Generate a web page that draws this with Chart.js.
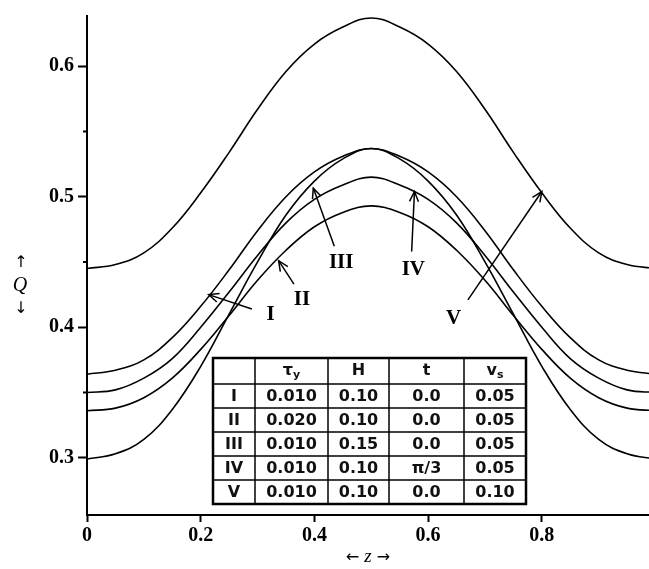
<!DOCTYPE html>
<html>
<head>
<meta charset="utf-8">
<script src="https://cdn.jsdelivr.net/npm/chart.js@4.4.1/dist/chart.umd.min.js"></script>
<style>
  html, body { margin: 0; padding: 0; background: #fff; }
  canvas { display: block; }
</style>
</head>
<body>
<canvas id="c" width="649" height="569"></canvas>
<script>
// ---- data ----
const zValues = [0, 0.05, 0.1, 0.15, 0.2, 0.25, 0.3, 0.35, 0.4, 0.45, 0.5,
                 0.55, 0.6, 0.65, 0.7, 0.75, 0.8, 0.85, 0.9, 0.95, 1.0];
const qI   = [0.364,0.367,0.375,0.392,0.416,0.444,0.474,0.500,0.519,0.531,0.537,
              0.531,0.519,0.500,0.474,0.444,0.416,0.392,0.375,0.367,0.364];
const qII  = [0.336,0.338,0.346,0.361,0.383,0.409,0.436,0.459,0.477,0.488,0.493,
              0.488,0.477,0.459,0.436,0.409,0.383,0.361,0.346,0.338,0.336];
const qIII = [0.299,0.303,0.314,0.337,0.370,0.410,0.450,0.486,0.512,0.529,0.537,
              0.529,0.512,0.486,0.450,0.410,0.370,0.337,0.314,0.303,0.299];
const qIV  = [0.350,0.352,0.361,0.376,0.400,0.427,0.455,0.480,0.498,0.509,0.515,
              0.509,0.498,0.480,0.455,0.427,0.400,0.376,0.361,0.352,0.350];
const qV   = [0.445,0.448,0.457,0.476,0.503,0.534,0.567,0.596,0.617,0.630,0.637,
              0.630,0.617,0.596,0.567,0.534,0.503,0.476,0.457,0.448,0.445];

const curveNames = ['I', 'II', 'III', 'IV', 'V'];
const curveSeries = [qI, qII, qIII, qIV, qV];

const xTicks = [0, 0.2, 0.4, 0.6, 0.8];
const xTickLabels = ['0', '0.2', '0.4', '0.6', '0.8'];
const yTicks = [0.3, 0.35, 0.4, 0.45, 0.5, 0.55, 0.6];
const yTickLabels = ['0.3', '', '0.4', '', '0.5', '', '0.6'];

// table contents
const tableHeads = [['', ''], ['τ', 'y'], ['H', ''], ['t', ''], ['v', 's']];
const colTauY = ['0.010', '0.020', '0.010', '0.010', '0.010'];
const colH    = ['0.10', '0.10', '0.15', '0.10', '0.10'];
const colT    = ['0.0', '0.0', '0.0', 'π/3', '0.0'];
const colVs   = ['0.05', '0.05', '0.05', '0.05', '0.10'];

// ---- layout (annotation positions in data units, table in pixels) ----
const arrowsLayout = [
  { name: 'I',   tail: [0.290, 0.4140], tip: [0.214, 0.425], label: [0.323, 0.4095] },
  { name: 'II',  tail: [0.364, 0.433],  tip: [0.337, 0.451], label: [0.378, 0.4215] },
  { name: 'III', tail: [0.435, 0.462],  tip: [0.398, 0.5066], label: [0.447, 0.4495] },
  { name: 'IV',  tail: [0.571, 0.458],  tip: [0.576, 0.504], label: [0.574, 0.4445] },
  { name: 'V',   tail: [0.670, 0.421],  tip: [0.800, 0.504], label: [0.645, 0.4065] }
];
const tableBox = { left: 213, top: 358, colW: [42, 73, 61, 75, 62], headH: 26, rowH: 24 };

const datasets = curveSeries.map((s, i) => ({
  label: curveNames[i],
  data: zValues.map((z, k) => ({ x: z, y: s[k] })),
  borderColor: '#000',
  borderWidth: 1.6,
  pointRadius: 0,
  fill: false,
  tension: 0.4
}));

function drawArrow(ctx, x1, y1, x2, y2) {
  ctx.beginPath();
  ctx.moveTo(x1, y1);
  ctx.lineTo(x2, y2);
  ctx.stroke();
  const a = Math.atan2(y2 - y1, x2 - x1);
  const L = 11, w = 0.42;
  ctx.beginPath();
  ctx.moveTo(x2 - L * Math.cos(a - w), y2 - L * Math.sin(a - w));
  ctx.lineTo(x2, y2);
  ctx.lineTo(x2 - L * Math.cos(a + w), y2 - L * Math.sin(a + w));
  ctx.stroke();
}

const overlay = {
  id: 'overlay',
  afterDraw(chart) {
    const ctx = chart.ctx;
    const xs = chart.scales.x, ys = chart.scales.y;
    const ca = chart.chartArea;
    ctx.save();
    // minor y ticks
    ctx.strokeStyle = '#000';
    ctx.lineWidth = 2;
    yTicks.forEach((v, i) => {
      if (yTickLabels[i] === '') {
        const py = ys.getPixelForValue(v);
        ctx.beginPath();
        ctx.moveTo(ca.left - 4, py);
        ctx.lineTo(ca.left, py);
        ctx.stroke();
      }
    });
    // arrows and labels
    ctx.lineWidth = 1.5;
    ctx.fillStyle = '#000';
    ctx.font = 'bold 21px "Liberation Serif"';
    ctx.textAlign = 'center';
    ctx.textBaseline = 'middle';
    arrowsLayout.forEach(a => {
      drawArrow(ctx,
        xs.getPixelForValue(a.tail[0]), ys.getPixelForValue(a.tail[1]),
        xs.getPixelForValue(a.tip[0]), ys.getPixelForValue(a.tip[1]));
      ctx.fillText(a.name, xs.getPixelForValue(a.label[0]), ys.getPixelForValue(a.label[1]));
    });
    // table
    const tb = tableBox;
    const totalW = tb.colW.reduce((p, c) => p + c, 0);
    const nRows = curveNames.length;
    const totalH = tb.headH + nRows * tb.rowH;
    ctx.fillStyle = '#fff';
    ctx.fillRect(tb.left, tb.top, totalW, totalH);
    ctx.strokeStyle = '#000';
    ctx.lineWidth = 1.5;
    let cx = tb.left;
    for (let c = 0; c < tb.colW.length - 1; c++) {
      cx += tb.colW[c];
      ctx.beginPath(); ctx.moveTo(cx, tb.top); ctx.lineTo(cx, tb.top + totalH); ctx.stroke();
    }
    for (let r = 0; r < nRows; r++) {
      const ry = tb.top + tb.headH + r * tb.rowH;
      ctx.beginPath(); ctx.moveTo(tb.left, ry); ctx.lineTo(tb.left + totalW, ry); ctx.stroke();
    }
    ctx.lineWidth = 2.5;
    ctx.strokeRect(tb.left, tb.top, totalW, totalH);
    // cell text
    ctx.fillStyle = '#111';
    const colCenters = [];
    cx = tb.left;
    tb.colW.forEach(w => { colCenters.push(cx + w / 2); cx += w; });
    tableHeads.forEach((h, c) => {
      if (!h[0]) return;
      const yMid = tb.top + tb.headH / 2;
      ctx.font = 'bold 16px "DejaVu Sans"';
      const w1 = ctx.measureText(h[0]).width;
      ctx.font = 'bold 11px "DejaVu Sans"';
      const w2 = h[1] ? ctx.measureText(h[1]).width : 0;
      const x0 = colCenters[c] - (w1 + w2) / 2;
      ctx.textAlign = 'left';
      ctx.font = 'bold 16px "DejaVu Sans"';
      ctx.fillText(h[0], x0, yMid);
      if (h[1]) {
        ctx.font = 'bold 11px "DejaVu Sans"';
        ctx.fillText(h[1], x0 + w1, yMid + 4);
      }
    });
    ctx.textAlign = 'center';
    ctx.font = 'bold 16px "DejaVu Sans"';
    const cols = [curveNames, colTauY, colH, colT, colVs];
    for (let r = 0; r < nRows; r++) {
      const yMid = tb.top + tb.headH + r * tb.rowH + tb.rowH / 2 + 1;
      cols.forEach((col, c) => ctx.fillText(col[r], colCenters[c], yMid));
    }
    // axis titles
    ctx.fillStyle = '#000';
    ctx.textBaseline = 'middle';
    const xMid = (ca.left + ca.right) / 2;
    ctx.font = '16px "DejaVu Sans"';
    const la = '← ', ra = ' →';
    const wl = ctx.measureText(la).width, wr = ctx.measureText(ra).width;
    ctx.font = 'italic 19px "Liberation Serif"';
    const wz = ctx.measureText('z').width;
    let sx = xMid - (wl + wz + wr) / 2;
    ctx.textAlign = 'left';
    ctx.font = '16px "DejaVu Sans"';
    ctx.fillText(la, sx, 558);
    ctx.font = 'italic 19px "Liberation Serif"';
    ctx.fillText('z', sx + wl, 557);
    ctx.font = '16px "DejaVu Sans"';
    ctx.fillText(ra, sx + wl + wz, 558);
    ctx.textAlign = 'center';
    ctx.fillText('↑', 21, 263);
    ctx.font = 'italic 20px "Liberation Serif"';
    ctx.fillText('Q', 20, 286);
    ctx.font = '16px "DejaVu Sans"';
    ctx.fillText('↓', 21, 309);
    ctx.restore();
  }
};

new Chart(document.getElementById('c'), {
  type: 'line',
  data: { datasets },
  options: {
    responsive: false,
    animation: false,
    layout: { padding: { top: 12, right: 0, left: 0, bottom: 0 } },
    plugins: { legend: { display: false }, tooltip: { enabled: false } },
    scales: {
      x: {
        type: 'linear',
        min: 0, max: 0.9885,
        afterFit(s) { s.height = 54; },
        afterBuildTicks(s) { s.ticks = xTicks.map(v => ({ value: v })); },
        grid: { drawOnChartArea: false, drawTicks: true, tickLength: 7, tickColor: '#000', tickWidth: 2 },
        border: { display: true, color: '#000', width: 2 },
        ticks: {
          color: '#000', padding: 2, maxRotation: 0,
          font: { family: 'Liberation Serif', weight: 'bold', size: 20 },
          callback: (v) => { const i = xTicks.findIndex(t => Math.abs(t - v) < 1e-9); return i >= 0 ? xTickLabels[i] : ''; }
        }
      },
      y: {
        type: 'linear',
        min: 0.2561, max: 0.6385,
        afterFit(s) { s.width = 87; },
        afterBuildTicks(s) { s.ticks = yTicks.map(v => ({ value: v })); },
        grid: {
          drawOnChartArea: false, drawTicks: true, tickLength: 9, tickWidth: 2,
          tickColor: (c) => { const i = yTicks.findIndex(t => Math.abs(t - c.tick.value) < 1e-9); return (i >= 0 && yTickLabels[i] !== '') ? '#000' : 'rgba(0,0,0,0)'; }
        },
        border: { display: true, color: '#000', width: 2 },
        ticks: {
          color: '#000', padding: 4,
          font: { family: 'Liberation Serif', weight: 'bold', size: 20 },
          callback: (v) => { const i = yTicks.findIndex(t => Math.abs(t - v) < 1e-9); return i >= 0 ? yTickLabels[i] : ''; }
        }
      }
    }
  },
  plugins: [overlay]
});
</script>
</body>
</html>
